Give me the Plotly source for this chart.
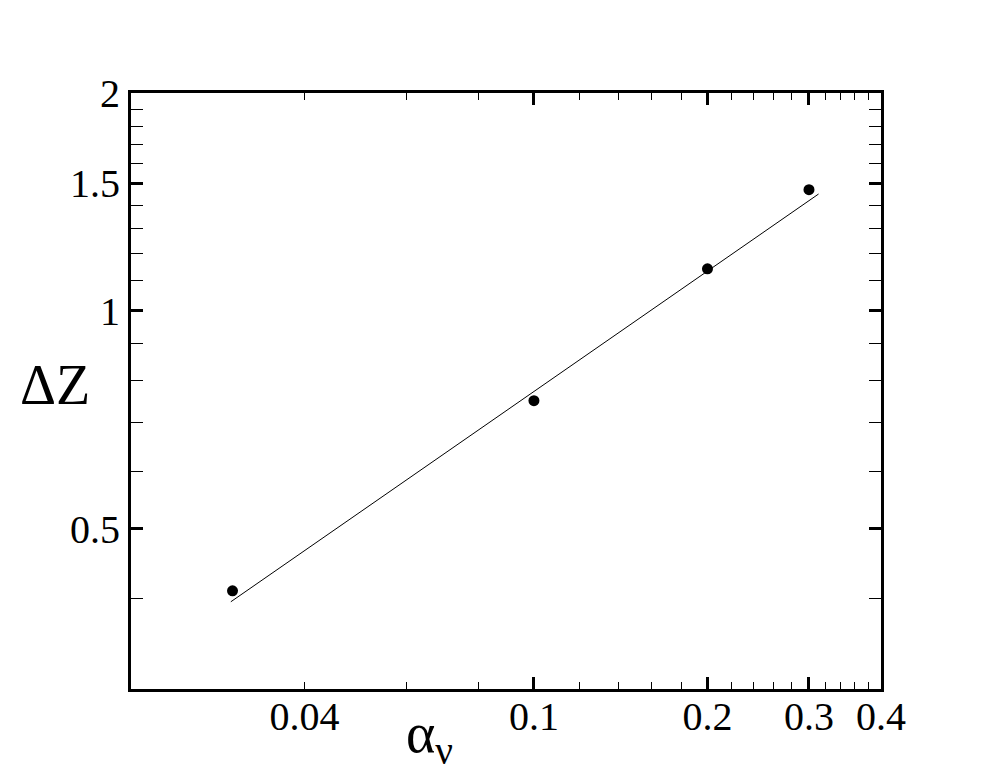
import math
import plotly.graph_objects as go

# data
alpha_points = [0.030, 0.100, 0.200, 0.300]
dz_points = [0.410, 0.751, 1.143, 1.470]
fit_alpha = [0.0298, 0.3117]
fit_dz = [0.396, 1.450]

x_label_vals = [0.04, 0.1, 0.2, 0.3, 0.4]
x_label_text = ["0.04", "0.1", "0.2", "0.3", "0.4"]
x_major = [0.1, 0.2, 0.3]
x_minor = [0.04, 0.06, 0.08, 0.12, 0.14, 0.16, 0.18, 0.22, 0.24, 0.26, 0.28,
           0.32, 0.34, 0.36, 0.38]
y_major = [0.5, 1, 1.5, 2]
y_major_text = ["0.5", "1", "1.5", "2"]
y_minor = [0.4, 0.6, 0.7, 0.8, 0.9, 1.1, 1.2, 1.3, 1.4, 1.6, 1.7, 1.8, 1.9]

FONT = "Liberation Serif"
TICKSIZE = 40

fig = go.Figure()
fig.add_trace(go.Scatter(x=fit_alpha, y=fit_dz, mode="lines",
                         line=dict(color="black", width=1), showlegend=False))
fig.add_trace(go.Scatter(x=alpha_points, y=dz_points, mode="markers", xaxis="x2",
                         marker=dict(color="black", size=11), showlegend=False))

xr = [math.log10(0.02), math.log10(0.4)]
yr = [math.log10(0.3), math.log10(2)]

fig.update_layout(
    width=1001, height=775,
    margin=dict(l=123, r=128, t=85, b=94),
    paper_bgcolor="white", plot_bgcolor="white",
    font=dict(family=FONT, color="black"),
    xaxis=dict(type="log", range=xr, showgrid=False, zeroline=False,
               showline=True, linecolor="black", linewidth=3, mirror="allticks",
               tickmode="array", tickvals=x_major, showticklabels=False,
               ticks="inside", ticklen=12, tickwidth=3, tickcolor="black",
               minor=dict(tickmode="array", tickvals=x_minor, ticks="inside",
                          ticklen=7, tickwidth=1, tickcolor="black", showgrid=False)),
    xaxis2=dict(type="log", range=xr, overlaying="x", anchor="y", side="bottom",
                showgrid=False, zeroline=False, showline=False,
                tickmode="array", tickvals=x_label_vals, ticktext=x_label_text,
                ticks="", tickfont=dict(family=FONT, size=TICKSIZE, color="black")),
    yaxis=dict(type="log", range=yr, showgrid=False, zeroline=False,
               showline=True, linecolor="black", linewidth=3, mirror="allticks",
               tickmode="array", tickvals=y_major, ticktext=y_major_text,
               ticks="inside", ticklen=12, tickwidth=3, tickcolor="black",
               tickfont=dict(family=FONT, size=TICKSIZE, color="black"),
               minor=dict(tickmode="array", tickvals=y_minor, ticks="inside",
                          ticklen=7, tickwidth=1, tickcolor="black", showgrid=False)),
    annotations=[
        dict(text="ΔZ", xref="paper", yref="paper", x=-0.101, y=0.51,
             showarrow=False, font=dict(family=FONT, size=56, color="black"),
             xanchor="center", yanchor="middle"),
        dict(text="α<sub>ν</sub>", xref="paper", yref="paper", x=0.398, y=-0.08,
             showarrow=False, font=dict(family=FONT, size=56, color="black"),
             xanchor="center", yanchor="middle"),
    ],
)

fig.write_html("out.html")
